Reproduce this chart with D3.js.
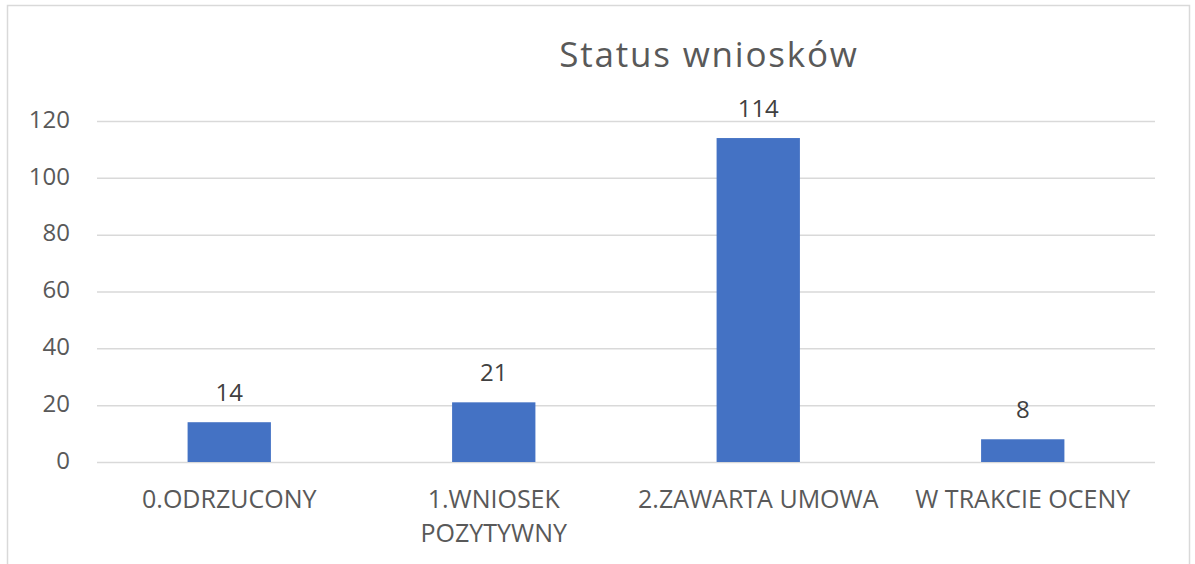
<!DOCTYPE html>
<html><head><meta charset="utf-8">
<script src="https://cdn.jsdelivr.net/npm/d3@7"></script>
<style>body{margin:0;background:#fff}svg{display:block}</style>
</head><body>
<svg id="c" width="1195" height="564"></svg>
<script>
const categories = [["0.ODRZUCONY"], ["1.WNIOSEK", "POZYTYWNY"], ["2.ZAWARTA UMOWA"], ["W TRAKCIE OCENY"]];
const values = [14, 21, 114, 8];
const yTicks = [0, 20, 40, 60, 80, 100, 120];
const title = "Status wniosków";

const svg = d3.select("#c");
const font = "'Open Sans', sans-serif";
const txt = "#595959";
svg.append("rect").attr("x", 7.5).attr("y", 5.5).attr("width", 1182).attr("height", 570)
  .attr("fill", "#fff").attr("stroke", "#d9d9d9").attr("stroke-width", 1.5);

const m = {left: 97, right: 1155, top: 121, bottom: 462};
const x = d3.scaleBand().domain(d3.range(categories.length)).range([m.left, m.right]);
const y = d3.scaleLinear().domain([0, 120]).range([m.bottom, m.top]);

const yAxis = svg.append("g").attr("transform", `translate(${m.left},0)`)
  .call(d3.axisLeft(y).tickValues(yTicks).tickSize(-(m.right - m.left)).tickPadding(27));
yAxis.select(".domain").remove();
yAxis.selectAll("line").attr("stroke", "#d9d9d9").attr("stroke-width", 1.5);
yAxis.selectAll("text").attr("fill", txt).attr("dy", "0.26em")
  .style("font-family", font).style("font-size", "24px");

const bw = x.bandwidth() * 0.315;
svg.selectAll("rect.bar").data(values).join("rect").attr("class", "bar")
  .attr("x", (d, i) => x(i) + x.bandwidth() / 2 - bw / 2)
  .attr("width", bw)
  .attr("y", d => y(d)).attr("height", d => y(0) - y(d))
  .attr("fill", "#4472c4");

svg.selectAll("text.val").data(values).join("text").attr("class", "val")
  .attr("x", (d, i) => x(i) + x.bandwidth() / 2)
  .attr("y", d => y(d) - 21)
  .attr("text-anchor", "middle").attr("fill", "#404040")
  .style("font-family", font).style("font-size", "24px").text(d => d);

const cl = svg.selectAll("text.cat").data(categories).join("text").attr("class", "cat")
  .attr("text-anchor", "middle").attr("fill", txt)
  .style("font-family", font).style("font-size", "25px");
cl.each(function(lines, i) {
  d3.select(this).selectAll("tspan").data(lines).join("tspan")
    .attr("x", x(i) + x.bandwidth() / 2)
    .attr("y", (l, j) => 508 + j * 34).text(l => l);
});

svg.append("text").attr("x", 709).attr("y", 67).attr("text-anchor", "middle")
  .attr("fill", txt).style("font-family", font).style("font-size", "35px")
  .style("letter-spacing", "1.8px").text(title);
</script>
</body></html>
